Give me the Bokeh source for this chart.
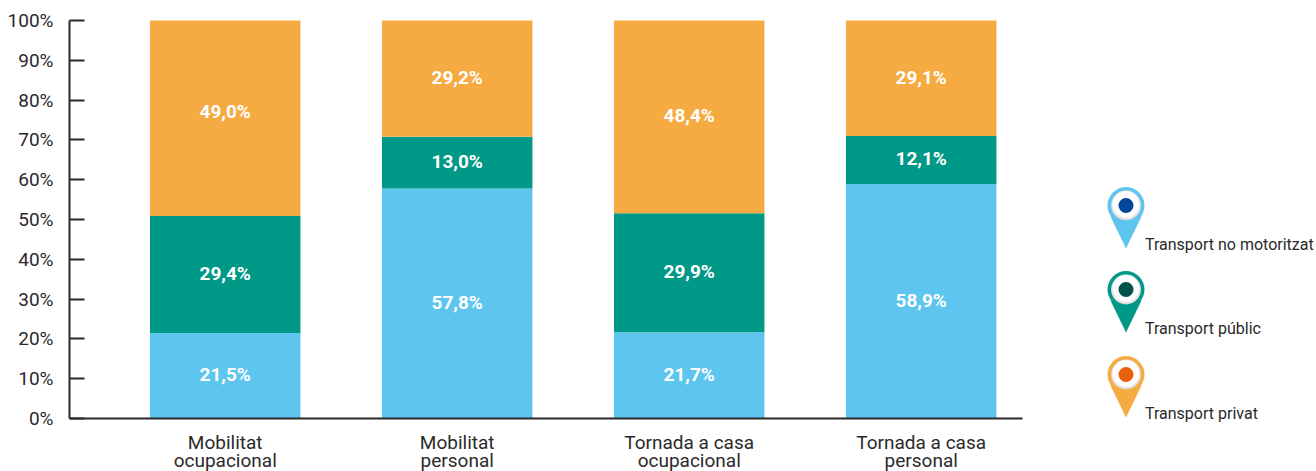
from bokeh.plotting import figure
from bokeh.models import Range1d, LinearAxis, FixedTicker
from bokeh.embed import file_html
from bokeh.resources import INLINE
from bokeh.core.properties import value

categories = [["Mobilitat", "ocupacional"], ["Mobilitat", "personal"],
              ["Tornada a casa", "ocupacional"], ["Tornada a casa", "personal"]]
no_motoritzat = [21.5, 57.8, 21.7, 58.9]
public = [29.4, 13.0, 29.9, 12.1]
privat = [49.0, 29.2, 48.4, 29.1]
series_names = ["Transport no motoritzat", "Transport públic", "Transport privat"]
y_ticks = list(range(0, 101, 10))

BLUE, TEAL, ORANGE = "#5dc5ee", "#009886", "#f6ab42"
DOTS = ["#00479b", "#00524a", "#e85f0e"]
INK = "#2b2a29"
FONT = "Roboto"

FW, FH = 1316, 471
L, T = 69, 20
BASE = 418
GAP = 0                 # height left under the frame for the axis panel
FB = FH - GAP           # frame bottom in page pixels
SPACING = 232.0
X0 = 224.7
PX_PER_UNIT = (BASE - T) / 100.0

def px2idx(px):
    return (px - X0) / SPACING

def px2val(py):
    return (BASE - py) / PX_PER_UNIT

p = figure(width=FW, height=FH, output_backend="svg", toolbar_location=None,
           x_range=Range1d(px2idx(L), px2idx(FW)), y_range=Range1d(px2val(FB), px2val(0)),
           min_border_left=L, min_border_top=0, min_border_right=0, min_border_bottom=GAP,
           x_axis_type=None, y_axis_type=None)
p.outline_line_color = None
p.grid.visible = False
p.background_fill_color = "white"

p.extra_x_ranges["px"] = Range1d(L, FW)
p.extra_y_ranges["px"] = Range1d(FB, 0)

xs = list(range(len(categories)))

# axes
xa = LinearAxis(ticker=FixedTicker(ticks=[]), fixed_location=0,
                bounds=(px2idx(L), px2idx(1022)))
xa.major_tick_line_color = None
xa.minor_tick_line_color = None
xa.axis_line_color = INK
xa.axis_line_width = 2
xa.major_label_text_font_size = "1px"
xa.major_label_standoff = 0
p.add_layout(xa, "below")

ya = LinearAxis(ticker=FixedTicker(ticks=y_ticks), bounds=(0, 100),
                major_label_overrides={t: f"{t}%" for t in y_ticks})
ya.major_tick_in = 15
ya.major_tick_out = 0
ya.major_tick_line_color = INK
ya.major_tick_line_width = 2
ya.minor_tick_line_color = None
ya.axis_line_color = INK
ya.axis_line_width = 2
ya.major_label_text_font = FONT
ya.major_label_text_font_size = "19px"
ya.major_label_text_color = INK
ya.major_label_standoff = 16
p.add_layout(ya, "left")

# bars (the stacks fill the whole 0-100 column, so the top segment ends at 100)
bar_w = 150.5 / SPACING
bottom = [0.0] * len(xs)
lx, ly, lt = [], [], []
stack = [no_motoritzat, public, privat]
for k, (vals, col) in enumerate(zip(stack, [BLUE, TEAL, ORANGE])):
    top = [b + v for b, v in zip(bottom, vals)]
    drawn_top = [100.0] * len(xs) if k == len(stack) - 1 else top
    p.vbar(x=xs, bottom=bottom, top=drawn_top, width=bar_w, fill_color=col, line_color=None)
    for x, b, v in zip(xs, bottom, vals):
        lx.append(x)
        ly.append(b + v / 2)
        lt.append(f"{v:.1f}%".replace(".", ","))
    bottom = top

# the reference sets the 49,0% label a little above its segment's middle
ly[lt.index("49,0%")] += 1.6
p.text(x=lx, y=ly, text=lt, y_offset=-1, text_color="white", text_font=value(FONT), text_font_style="bold",
       text_font_size="19px", text_align="center", text_baseline="middle")

# category labels, two lines each, under the axis
for line_no, py in enumerate([441.5, 459.5]):
    p.text(x=xs, y=[px2val(py)] * len(xs), text=[c[line_no] for c in categories],
           text_color=INK, text_font=value(FONT), text_font_size="19px",
           text_align="center", text_baseline="middle")

# legend pins
pin_x = 1125.5
pin_y = [205, 289, 374]
label_y = [243.5, 327.5, 412.5]
R = dict(x_range_name="px", y_range_name="px")
for cy, ly_, name, col, dot in zip(pin_y, label_y, series_names, [BLUE, TEAL, ORANGE], DOTS):
    p.patch([pin_x - 15.5, pin_x + 15.5, pin_x], [cy + 11, cy + 11, cy + 43], fill_color=col, line_color=None, **R)
    p.circle([pin_x], [cy], radius=18.5, fill_color=col, line_color=None, **R)
    p.circle([pin_x], [cy], radius=15, fill_color="#d6d6d6", line_color=None, **R)
    p.circle([pin_x], [cy - 0.6], radius=14.2, fill_color="#eeeeee", line_color=None, **R)
    p.circle([pin_x], [cy - 1.2], radius=13, fill_color="white", line_color=None, **R)
    p.circle([pin_x], [cy], radius=7.5, fill_color=dot, line_color=None, **R)
    p.text([1144.5], [ly_], text=[name], text_color=INK, text_font=value(FONT), text_font_size="16px",
           text_align="left", text_baseline="middle", **R)

open("out.html", "w").write(file_html(p, INLINE))
